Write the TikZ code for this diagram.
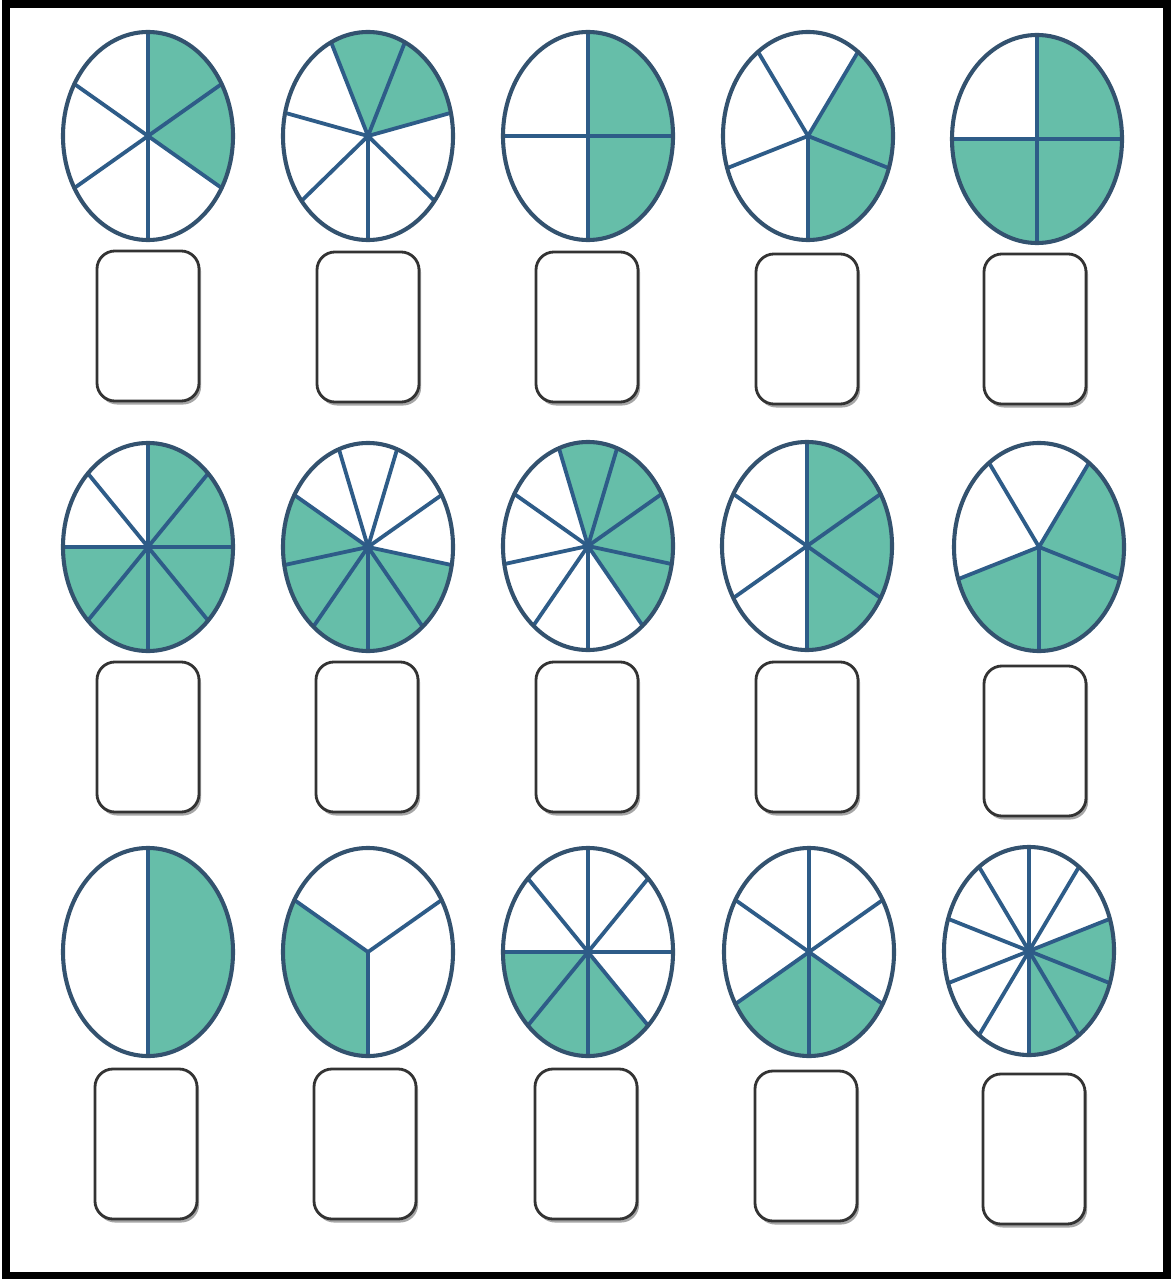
\documentclass[tikz,border=0pt]{standalone}
\usepackage{tikz}
\usetikzlibrary{shapes.geometric,shadows}
\definecolor{verdePie}{HTML}{66BEA9}
\definecolor{azulRadio}{HTML}{2E5C88}
\definecolor{azulBorde}{HTML}{33526F}
\definecolor{grisCaja}{HTML}{333333}

\begin{document}
\begin{tikzpicture}[
    x=0.025cm, y=-0.025cm,
    sector/.style={fill=verdePie},
    radio/.style={draw=azulRadio, line width=2.7pt, line cap=round},
    pie/.style={ellipse, draw=azulBorde, line width=2.9pt, inner sep=0pt,
                minimum width=4.25cm, minimum height=5.2cm},
    caja/.style={rectangle, rounded corners=0.45cm, draw=grisCaja, line width=2pt, fill=white,
                 minimum width=2.55cm, minimum height=3.75cm,
                 drop shadow={shadow xshift=1.5pt, shadow yshift=-2.5pt, opacity=0.35, fill=black}},
    marco/.style={draw=black, line width=6pt}
  ]
  \useasboundingbox (0,0) rectangle (1172,1279);
  \fill[white] (0,0) rectangle (1172,1279);

  % Circulos: centro x / centro y / partes / angulo inicial / partes coloreadas
  \foreach \cx/\cy/\n/\s/\sh [count=\i] in {
      148/136/6/90/{0,1}, 368/136/7/{90+180/7}/{0,1}, 588/136/4/90/{0,1},
      808/136/5/54/{0,1}, 1037/139/4/90/{0,1,2},
      148/547/8/90/{0,1,2,3,4,5}, 368/547/9/150/{4,5,6,7,8}, 588/546/9/110/{0,1,2,3},
      807/546/6/90/{0,1,2}, 1039/547/5/54/{0,1,2},
      148/952/2/90/{0}, 368/952/3/30/{1}, 588/952/8/90/{3,4,5},
      809/952/6/90/{2,3}, 1029/951/10/90/{2,3,4}} {
    \begin{scope}[shift={(\cx,\cy)}, xscale=85, yscale=-104]
      \foreach \k in \sh {
        \fill[sector] (0,0) -- ({\s-\k*360/\n}:1)
          arc[start angle={\s-\k*360/\n}, delta angle={-360/\n}, radius=1] -- cycle;
      }
      \foreach \k in {1,...,\n} {
        \draw[radio] (0,0) -- ({\s-\k*360/\n}:1);
      }
    \end{scope}
    \node[pie] (pie\i) at (\cx,\cy) {};
  }

  % Cajas para la respuesta
  \foreach \bx/\by [count=\i] in {
      148/326, 368/327, 587/327, 807/329, 1035/329,
      148/737, 367/737, 587/737, 807/737, 1035/741,
      146/1144, 365/1144, 586/1144, 806/1146, 1034/1149} {
    \node[caja] (caja\i) at (\bx,\by) {};
  }

  % Marco
  \draw[marco] (6,4) rectangle (1167,1276);
\end{tikzpicture}
\end{document}
